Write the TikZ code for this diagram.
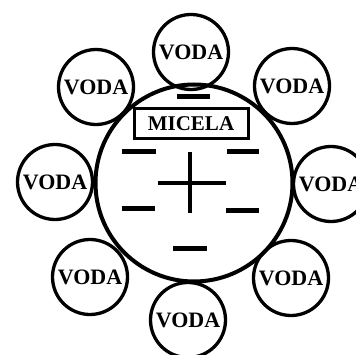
\documentclass[tikz,border=0pt]{standalone}
\usepackage{fontspec}
\setmainfont{Liberation Serif}
\begin{document}
\begin{tikzpicture}[x=1pt,y=-1pt,
  voda/.style={circle,draw,line width=3.3pt,minimum size=75pt,inner sep=0pt,
    font=\bfseries\fontsize{22}{22}\selectfont},
  charge/.style={line width=5pt},
  pluscharge/.style={line width=4.5pt}]
\useasboundingbox (0,0) rectangle (355,355);
\node[circle,draw,line width=4pt,minimum size=197pt,inner sep=0pt] (mic) at (194,183) {};
\node[draw,line width=3pt,minimum width=114pt,minimum height=30pt,inner sep=0pt,
  font=\bfseries\fontsize{21}{22}\selectfont] (lab) at (191,123.5) {MICELA};
\node[voda] (v1) at (191,52) {VODA};
\node[voda] (v2) at (96,87) {VODA};
\node[voda] (v3) at (292,86) {VODA};
\node[voda] (v4) at (55,182) {VODA};
\node[voda] (v5) at (331,184) {VODA};
\node[voda] (v6) at (90,277) {VODA};
\node[voda] (v7) at (291,278) {VODA};
\node[voda] (v8) at (188,320) {VODA};
\draw[charge] (177,97) -- (210,97);
\draw[charge] (122,152) -- (156,152);
\draw[charge] (227,152) -- (259,152);
\draw[charge] (122,208) -- (155,208);
\draw[charge] (226,210) -- (259,210);
\draw[charge] (173,248) -- (207,248);
\draw[pluscharge] (158,183) -- (226,183);
\draw[pluscharge] (190,152) -- (190,213);
\end{tikzpicture}
\end{document}
